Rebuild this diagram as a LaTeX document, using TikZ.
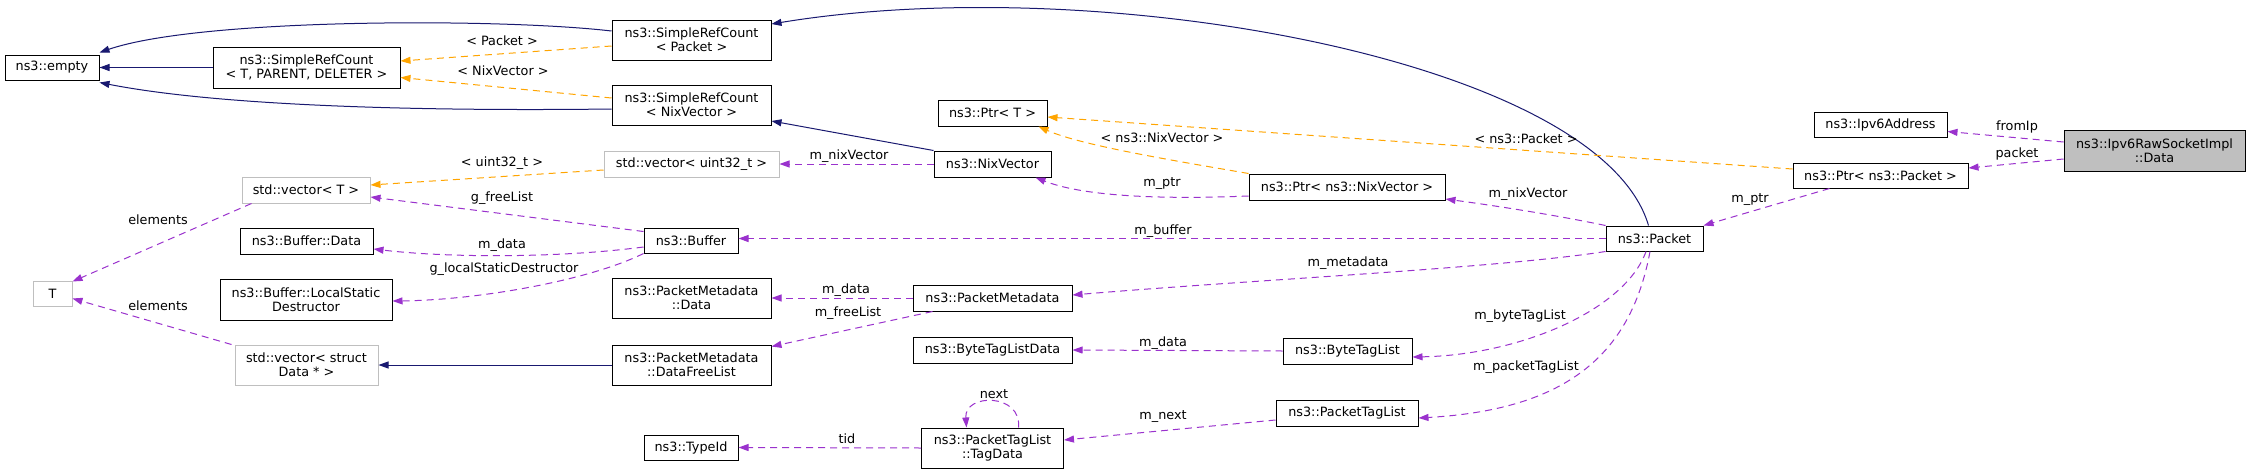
\documentclass[tikz,border=0pt]{standalone}
\usepackage{fontspec}
\setmainfont{DejaVu Sans}
\usetikzlibrary{arrows.meta,calc}
\definecolor{inhc}{HTML}{191970}
\definecolor{tmplc}{HTML}{FFA500}
\definecolor{usec}{HTML}{9A32CD}
\definecolor{grayb}{HTML}{BFBFBF}
\begin{document}
\begin{tikzpicture}[x=1pt,y=-1pt,
  every node/.style={font=\fontsize{12.8}{13.8}\selectfont},
  box/.style={draw=black, fill=white, line width=1pt, inner sep=0pt, align=center, minimum height=25pt},
  gbox/.style={box, draw=grayb},
  tip/.style={-{Triangle[length=10pt,width=7pt]}},
  inh/.style={draw=inhc, line width=1pt, tip},
  tmpl/.style={draw=tmplc, line width=1pt, dash pattern=on 7pt off 5pt, tip},
  use/.style={draw=usec, line width=1pt, dash pattern=on 7pt off 5pt, tip},
  lbl/.style={inner sep=0pt}]
\useasboundingbox[fill=white] (0,0) rectangle (2251,474);

% nodes
\node[box, minimum width=94pt] (empty) at (52,67.5) {ns3::empty};
\node[box, minimum width=187pt, minimum height=41pt] (srcT) at (306.5,67.5) {ns3::SimpleRefCount\\< T, PARENT, DELETER >};
\node[box, minimum width=159pt, minimum height=40pt] (srcP) at (691.5,40) {ns3::SimpleRefCount\\< Packet >};
\node[box, minimum width=159pt, minimum height=40pt] (srcN) at (691.5,105) {ns3::SimpleRefCount\\< NixVector >};
\node[gbox, minimum width=175pt, minimum height=26pt] (vecU) at (691.5,164) {std::vector< uint32\_t >};
\node[gbox, minimum width=128pt, minimum height=26pt] (vecT) at (306,190) {std::vector< T >};
\node[box, minimum width=94pt] (buf) at (691,240.5) {ns3::Buffer};
\node[box, minimum width=133pt, minimum height=26pt] (bufData) at (306.5,241) {ns3::Buffer::Data};
\node[gbox, minimum width=39pt] (T) at (52.5,293.5) {T};
\node[box, minimum width=172pt, minimum height=41pt] (lsd) at (306,299.5) {ns3::Buffer::LocalStatic\\Destructor};
\node[box, minimum width=159pt, minimum height=40pt] (pmData) at (691.5,298) {ns3::PacketMetadata\\::Data};
\node[gbox, minimum width=143pt, minimum height=40pt] (vecS) at (306.5,365) {std::vector< struct\\Data * >};
\node[box, minimum width=159pt, minimum height=40pt] (dfl) at (691.5,365) {ns3::PacketMetadata\\::DataFreeList};
\node[box, minimum width=94pt] (typeid) at (691,447.5) {ns3::TypeId};
\node[box, minimum width=109pt, minimum height=26pt] (ptrT) at (992.5,113) {ns3::Ptr< T >};
\node[box, minimum width=117pt, minimum height=26pt] (nix) at (992.5,164) {ns3::NixVector};
\node[box, minimum width=196pt, minimum height=26pt] (ptrN) at (1347,187) {ns3::Ptr< ns3::NixVector >};
\node[box, minimum width=159pt, minimum height=26pt] (pm) at (992.5,298) {ns3::PacketMetadata};
\node[box, minimum width=159pt, minimum height=26pt] (btld) at (992.5,350) {ns3::ByteTagListData};
\node[box, minimum width=129pt, minimum height=26pt] (btl) at (1347.5,351) {ns3::ByteTagList};
\node[box, minimum width=142pt, minimum height=26pt] (ptl) at (1347,413) {ns3::PacketTagList};
\node[box, minimum width=142pt, minimum height=40pt] (tagdata) at (992.5,448) {ns3::PacketTagList\\::TagData};
\node[box, minimum width=133pt] (ipv6) at (1880.5,124.5) {ns3::Ipv6Address};
\node[box, fill=grayb, minimum width=181pt, minimum height=41pt] (main) at (2154.5,150.5) {ns3::Ipv6RawSocketImpl\\::Data};
\node[box, minimum width=175pt] (ptrP) at (1880.5,175.5) {ns3::Ptr< ns3::Packet >};
\node[box, minimum width=97pt] (packet) at (1654.5,238.5) {ns3::Packet};

% inheritance
\draw[inh] (srcT.west) -- (empty.east);
\draw[inh] ($(srcP.west)+(0,-9)$) .. controls (500,18) and (200,18) .. ($(empty.north east)+(0,-2)$);
\draw[inh] ($(srcN.west)+(0,4)$) .. controls (450,111) and (230,108) .. ($(empty.south east)+(0,2)$);
\draw[inh] ($(packet.north)+(-6,0)$) .. controls (1600,60) and (1100,-30) .. ($(srcP.east)+(0,-16)$);
\draw[inh] (nix.north west) -- ($(srcN.east)+(0,16)$);
\draw[inh] (dfl.west) -- (vecS.east);

% template instances
\draw[tmpl] ($(srcP.west)+(0,6)$) -- ($(srcT.east)+(0,-6.5)$);
\node[lbl] at (502,41) {< Packet >};
\draw[tmpl] ($(srcN.west)+(0,-7)$) -- ($(srcT.east)+(0,10)$);
\node[lbl] at (503,71) {< NixVector >};
\draw[tmpl] ($(vecU.west)+(0,6)$) -- ($(vecT.east)+(0,-5)$);
\node[lbl] at (502,163) {< uint32\_t >};
\draw[tmpl] (ptrN.north west) .. controls (1170,160) and (1080,145) .. ($(ptrT.south east)+(-9,0)$);
\node[lbl] at (1162,138) {< ns3::NixVector >};
\draw[tmpl] ($(ptrP.west)+(0,-6.5)$) -- ($(ptrT.east)+(0,4)$);
\node[lbl] at (1526,139) {< ns3::Packet >};

% usage
\draw[use] ($(main.west)+(0,-8.5)$) -- ($(ipv6.east)+(0,7)$);
\node[lbl] at (2017,127) {fromIp};
\draw[use] ($(main.west)+(0,8.5)$) -- ($(ptrP.east)+(0,-7.5)$);
\node[lbl] at (2017,154) {packet};
\draw[use] ($(ptrP.south west)+(37,0)$) -- (packet.north east);
\node[lbl] at (1750,200) {m\_ptr};
\draw[use] (packet.north west) .. controls (1550,214) and (1490,205) .. ($(ptrN.east)+(0,12)$);
\node[lbl] at (1528,194) {m\_nixVector};
\draw[use] (packet.west) -- (packet.west -| buf.east);
\node[lbl] at (1163,231) {m\_buffer};
\draw[use] (packet.south west) .. controls (1500,268) and (1250,280) .. ($(pm.east)+(0,-3)$);
\node[lbl] at (1348,263) {m\_metadata};
\draw[use] ($(packet.south)+(-8.5,0)$) .. controls (1625,310) and (1520,355) .. ($(btl.east)+(0,6)$);
\node[lbl] at (1520,316) {m\_byteTagList};
\draw[use] ($(packet.south)+(-4.5,0)$) .. controls (1630,360) and (1560,410) .. ($(ptl.east)+(0,5)$);
\node[lbl] at (1526,367) {m\_packetTagList};
\draw[use] (nix.west) -- (vecU.east);
\node[lbl] at (849,156) {m\_nixVector};
\draw[use] ($(ptrN.west)+(0,9)$) .. controls (1150,200) and (1080,195) .. ($(nix.south east)+(-16,0)$);
\node[lbl] at (1162,184) {m\_ptr};
\draw[use] ($(buf.north west)+(0,4)$) -- ($(vecT.east)+(0,7)$);
\node[lbl] at (502,198) {g\_freeList};
\draw[use] ($(buf.west)+(0,6.5)$) .. controls (560,258) and (450,258) .. ($(bufData.east)+(0,8)$);
\node[lbl] at (502,245) {m\_data};
\draw[use] (buf.south west) .. controls (590,280) and (480,300) .. ($(lsd.east)+(0,1.5)$);
\node[lbl] at (504,269) {g\_localStaticDestructor};
\draw[use] ($(vecT.south west)+(10,0)$) -- ($(T.north east)+(0,1)$);
\node[lbl] at (158,220) {elements};
\draw[use] ($(vecS.north west)+(-3,0)$) -- ($(T.south east)+(0,-8)$);
\node[lbl] at (158,306) {elements};
\draw[use] (pm.west) -- (pmData.east);
\node[lbl] at (846,290) {m\_data};
\draw[use] ($(pm.south west)+(20,0)$) -- ($(dfl.north east)+(0,2)$);
\node[lbl] at (848,313) {m\_freeList};
\draw[use] (btl.west) -- (btld.east);
\node[lbl] at (1163,343) {m\_data};
\draw[use] ($(ptl.west)+(0,7)$) -- ($(tagdata.east)+(0,-8)$);
\node[lbl] at (1163,417) {m\_next};
\draw[use] (tagdata.west) -- (typeid.east);
\node[lbl] at (847,439) {tid};
\draw[use] ($(tagdata.north)+(26,0)$) .. controls (1022,393) and (964,393) .. ($(tagdata.north)+(-26,0)$);
\node[lbl] at (994,394) {next};
\end{tikzpicture}
\end{document}
